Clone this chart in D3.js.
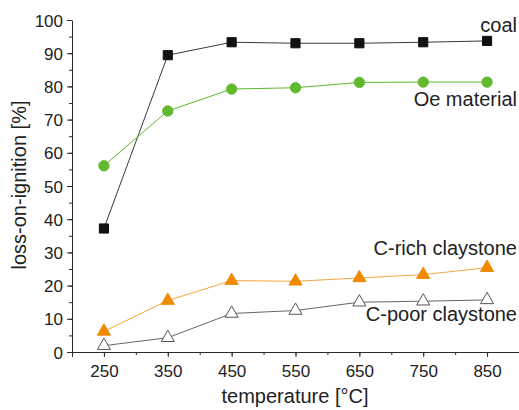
<!DOCTYPE html>
<html>
<head>
<meta charset="utf-8">
<script src="https://cdn.jsdelivr.net/npm/d3@7"></script>
<style>
  html, body { margin: 0; padding: 0; background: #fff; }
  svg { display: block; font-family: "Liberation Sans", Arial, sans-serif; }
</style>
</head>
<body>
<svg id="chart" width="519" height="410"></svg>
<script>
// Heating temperatures (°C)
const temperatures = [250, 350, 450, 550, 650, 750, 850];

// Loss-on-ignition (%) per material
const coal = [37.2, 89.4, 93.3, 93.0, 93.0, 93.3, 93.7];
const oeMaterial = [56.1, 72.6, 79.2, 79.6, 81.2, 81.3, 81.3];
const cRich = [6.2, 15.5, 21.5, 21.3, 22.3, 23.3, 25.4];
const cPoor = [1.9, 4.3, 11.6, 12.5, 15.0, 15.3, 15.7];

const seriesNames = ["coal", "Oe material", "C-rich claystone", "C-poor claystone"];

const xTicks = [250, 350, 450, 550, 650, 750, 850];
const yTicks = [0, 10, 20, 30, 40, 50, 60, 70, 80, 90, 100];

const svg = d3.select("#chart");
const plotLeft = 72, plotRight = 519, plotTop = 20, plotBottom = 352;

const x = d3.scaleLinear().domain([200, 900]).range([plotLeft, plotRight]);
const y = d3.scaleLinear().domain([0, 100]).range([plotBottom, plotTop]);

const axisColor = "#2a2a2a";

// minor ticks
svg.append("g")
  .attr("transform", `translate(0,${plotBottom})`)
  .call(d3.axisBottom(x).tickValues(d3.range(200, 901, 50)).tickSize(3).tickFormat(""))
  .call(g => g.select(".domain").remove())
  .call(g => g.selectAll("line").attr("stroke", axisColor));
svg.append("g")
  .attr("transform", `translate(${plotLeft},0)`)
  .call(d3.axisLeft(y).tickValues(d3.range(0, 101, 5)).tickSize(3).tickFormat(""))
  .call(g => g.select(".domain").remove())
  .call(g => g.selectAll("line").attr("stroke", axisColor));

// major ticks and labels
svg.append("g")
  .attr("transform", `translate(0,${plotBottom})`)
  .call(d3.axisBottom(x).tickValues(xTicks.concat([200, 900])).tickSize(5).tickSizeOuter(0)
    .tickFormat(d => xTicks.includes(d) ? d : ""))
  .call(g => g.select(".domain").attr("stroke", axisColor))
  .call(g => g.selectAll("line").attr("stroke", axisColor))
  .call(g => g.selectAll("text").attr("font-size", 17).attr("font-family", "Liberation Sans, Arial, sans-serif")
    .attr("fill", "#222").attr("dy", null).attr("y", 25));

svg.append("g")
  .attr("transform", `translate(${plotLeft},0)`)
  .call(d3.axisLeft(y).tickValues(yTicks).tickSize(5).tickSizeOuter(0))
  .call(g => g.select(".domain").attr("stroke", axisColor))
  .call(g => g.selectAll("line").attr("stroke", axisColor))
  .call(g => g.selectAll("text").attr("font-size", 17).attr("font-family", "Liberation Sans, Arial, sans-serif")
    .attr("fill", "#222").attr("x", -9).attr("dy", "0.36em"));

// axis titles
svg.append("text")
  .attr("x", 295).attr("y", 403)
  .attr("text-anchor", "middle")
  .attr("font-size", 20).attr("fill", "#222")
  .text("temperature [°C]");

svg.append("text")
  .attr("transform", `translate(26,${185}) rotate(-90)`)
  .attr("text-anchor", "middle")
  .attr("font-size", 20).attr("fill", "#222")
  .text("loss-on-ignition [%]");

const line = d3.line().x((d, i) => x(temperatures[i])).y(d => y(d));

const series = [
  { values: coal, line: "#3a3a3a", symbol: d3.symbolSquare, size: 84, fill: "#111", stroke: "#111" },
  { values: oeMaterial, line: "#5cb82c", symbol: d3.symbolCircle, size: 84, fill: "#62b92e", stroke: "#62b92e" },
  { values: cRich, line: "#f7a540", symbol: d3.symbolTriangle, size: 74, fill: "#f08a00", stroke: "#f08a00" },
  { values: cPoor, line: "#666", symbol: d3.symbolTriangle, size: 74, fill: "#fff", stroke: "#555" }
];

series.forEach(s => {
  svg.append("path")
    .datum(s.values)
    .attr("d", line)
    .attr("fill", "none")
    .attr("stroke", s.line)
    .attr("stroke-width", 1);
  svg.append("g").selectAll("path")
    .data(s.values)
    .join("path")
    .attr("transform", (d, i) => `translate(${x(temperatures[i])},${y(d)})`)
    .attr("d", d3.symbol().type(s.symbol).size(s.size))
    .attr("fill", s.fill)
    .attr("stroke", s.stroke)
    .attr("stroke-width", 1);
});

// series labels
const labelPos = [
  { name: seriesNames[0], y: 32 },
  { name: seriesNames[1], y: 106 },
  { name: seriesNames[2], y: 255 },
  { name: seriesNames[3], y: 321 }
];
svg.append("g").selectAll("text")
  .data(labelPos)
  .join("text")
  .attr("x", 517)
  .attr("y", d => d.y)
  .attr("text-anchor", "end")
  .attr("font-size", 20)
  .attr("fill", "#222")
  .text(d => d.name);
</script>
</body>
</html>
